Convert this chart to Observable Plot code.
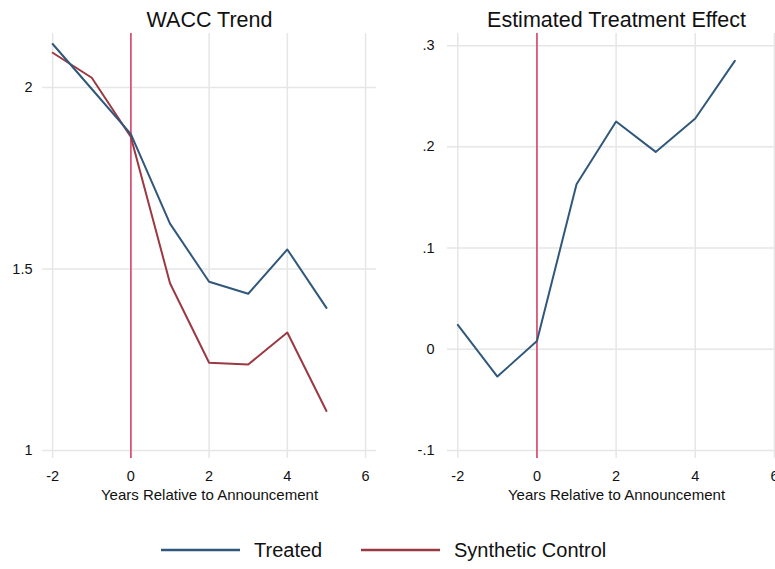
<!DOCTYPE html>
<html>
<head>
<meta charset="utf-8">
<script src="https://cdn.jsdelivr.net/npm/d3@7"></script>
<script src="https://cdn.jsdelivr.net/npm/@observablehq/plot@0.6"></script>
<style>
  html, body { margin: 0; padding: 0; background: #fff; overflow: hidden; }
  #wrap { position: relative; width: 775px; height: 569px; overflow: hidden; font-family: "Liberation Sans", Arial, Helvetica, sans-serif; }
  #left { position: absolute; left: 0; top: 0; width: 390px; }
  #right { position: absolute; left: 390px; top: 0; width: 400px; }
  #wrap svg { max-width: none !important; }
  #legend { position: absolute; left: 0; top: 536px; width: 775px; height: 28px; font-size: 20px; color: #111; }
  .item { position: absolute; top: 0; display: flex; align-items: center; height: 28px; }
  .item svg { margin-right: 14px; }
</style>
</head>
<body>
<div id="wrap">
  <div id="left"></div>
  <div id="right"></div>
  <div id="legend"></div>
</div>
<script>
// ---- data ----
const years = [-2, -1, 0, 1, 2, 3, 4, 5];
const treated = [2.12, 1.996, 1.872, 1.625, 1.465, 1.432, 1.554, 1.393];
const synthetic = [2.096, 2.027, 1.864, 1.461, 1.242, 1.237, 1.325, 1.109];
const effect = [0.024, -0.027, 0.008, 0.163, 0.225, 0.195, 0.228, 0.285];

const xTicks = [-2, 0, 2, 4, 6];
const xTickLabels = ["-2", "0", "2", "4", "6"];
const leftYTicks = [1, 1.5, 2];
const leftYTickLabels = ["1", "1.5", "2"];
const rightYTicks = [-0.1, 0, 0.1, 0.2, 0.3];
const rightYTickLabels = ["-.1", "0", ".1", ".2", ".3"];
const eventYear = [0];

const titles = ["WACC Trend", "Estimated Treatment Effect"];
const xLabel = "Years Relative to Announcement";
const seriesNames = ["Treated", "Synthetic Control"];

const blue = "#30587c";
const red = "#9b3943";
const crimson = "#d8456b";
const gridColor = "#e6e6e6";
const font = '"Liberation Sans", Arial, Helvetica, sans-serif';

const treatedRows = years.map((x, i) => ({x, y: treated[i]}));
const synthRows = years.map((x, i) => ({x, y: synthetic[i]}));
const effectRows = years.map((x, i) => ({x, y: effect[i]}));

function fmt(ticks, labels) {
  return d => { const i = ticks.findIndex(t => Math.abs(t - d) < 1e-9); return i >= 0 ? labels[i] : ""; };
}

function panel({width, marginLeft, marginRight, yDomain, yTicks, yLabels, tickPad, series, title}) {
  return Plot.plot({
    width, height: 510,
    marginTop: 33, marginBottom: 52, marginLeft, marginRight,
    style: {fontFamily: font, fontSize: "14.5px", color: "#111", background: "transparent", maxWidth: "none"},
    x: {domain: [-2.26, 6.28]},
    y: {domain: yDomain},
    marks: [
      Plot.gridY(yTicks, {stroke: gridColor, strokeOpacity: 1, strokeWidth: 1.5}),
      Plot.gridX(xTicks, {stroke: gridColor, strokeOpacity: 1, strokeWidth: 1.5}),
      Plot.axisY({ticks: yTicks, tickSize: 0, tickPadding: tickPad, tickFormat: fmt(yTicks, yLabels), label: null, fontSize: 14.5}),
      Plot.axisX({ticks: xTicks, tickSize: 0, tickPadding: 12, tickFormat: fmt(xTicks, xTickLabels), label: null, fontSize: 14.5}),
      Plot.ruleX(eventYear, {stroke: crimson, strokeWidth: 1.6}),
      ...series.map(s => Plot.line(s.rows, {x: "x", y: "y", stroke: s.color, strokeWidth: 2})),
      Plot.text([title], {frameAnchor: "top", dy: -13, fontSize: 21.5, fill: "#111", lineAnchor: "middle"}),
      Plot.text([xLabel], {frameAnchor: "bottom", dy: 37, fontSize: 15, fill: "#111", lineAnchor: "middle"})
    ]
  });
}

const left = panel({
  width: 390, marginLeft: 42, marginRight: 14,
  yDomain: [0.978, 2.149], yTicks: leftYTicks, yLabels: leftYTickLabels, tickPad: 10,
  series: [{rows: synthRows, color: red}, {rows: treatedRows, color: blue}],
  title: titles[0]
});
document.getElementById("left").appendChild(left);

const right = panel({
  width: 400, marginLeft: 57, marginRight: 5,
  yDomain: [-0.108, 0.312], yTicks: rightYTicks, yLabels: rightYTickLabels, tickPad: 13,
  series: [{rows: effectRows, color: blue}],
  title: titles[1]
});
document.getElementById("right").appendChild(right);

// legend
const legend = document.getElementById("legend");
const legendItems = [
  {name: seriesNames[0], color: blue, left: 160},
  {name: seriesNames[1], color: red, left: 360}
];
legendItems.forEach(it => {
  const d = document.createElement("div");
  d.className = "item";
  d.style.left = it.left + "px";
  d.innerHTML = `<svg width="80" height="10"><line x1="1" x2="80" y1="5" y2="5" stroke="${it.color}" stroke-width="2.5"/></svg><span>${it.name}</span>`;
  legend.appendChild(d);
});
</script>
</body>
</html>
